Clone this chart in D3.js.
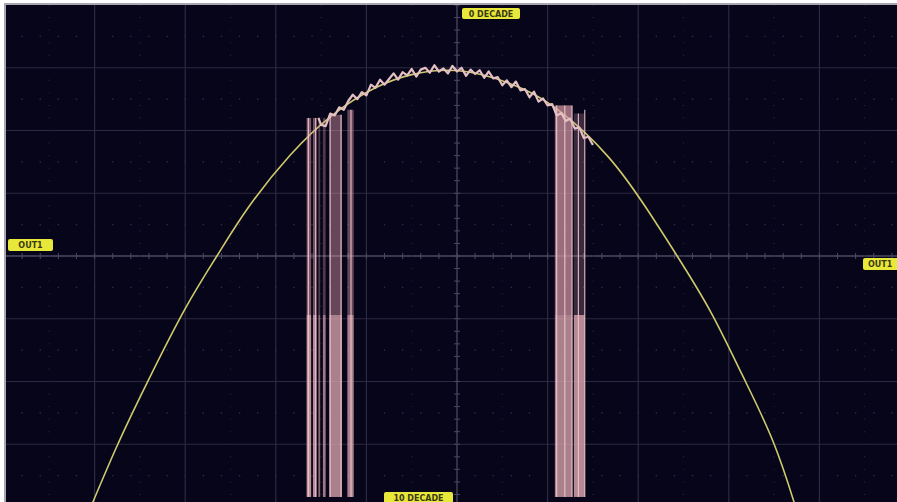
<!doctype html>
<html>
<head>
<meta charset="UTF-8">
<title>Scope trace</title>
<script src="https://cdn.jsdelivr.net/npm/d3@7"></script>
<style>
    body { margin: 0; background: #ffffff; }
    svg { display: block; font-family: "DejaVu Sans", sans-serif; }
    .grid { stroke: #2c2942; stroke-width: 1.2; }
    .axis0 { stroke: #4c4864; stroke-width: 1.3; }
    .tag text { font-size: 8px; font-weight: bold; fill: #3a3a10; }
</style>
</head>
<body>
<svg id="scope" width="897" height="502"></svg>
<script>
// reference curve (yellow), screen divisions
var refX = [-4.10, -4.03, -3.75, -3.41, -3.00, -2.65, -2.30, -1.84, -1.37, -0.90, -0.50, -0.11, 0.30, 0.73, 1.14, 1.67, 2.10, 2.43, 2.80, 3.15, 3.49, 3.72, 3.76];
var refY = [-4.20, -3.96, -3.02, -1.99, -0.84, 0.00, 0.78, 1.61, 2.25, 2.68, 2.89, 2.96, 2.88, 2.66, 2.30, 1.58, 0.74, 0.00, -0.89, -1.90, -2.96, -3.92, -4.10];

// measured trace (pink), noisy top part
var traceX = [-1.53, -1.50, -1.45, -1.40, -1.35, -1.30, -1.25, -1.20, -1.15, -1.10, -1.05, -1.00, -0.95, -0.90, -0.85, -0.80, -0.75, -0.70, -0.65, -0.60, -0.55, -0.50, -0.45, -0.40, -0.35, -0.30, -0.25, -0.20, -0.15, -0.10, -0.05, 0.00, 0.05, 0.10, 0.15, 0.20, 0.25, 0.30, 0.35, 0.40, 0.45, 0.50, 0.55, 0.60, 0.65, 0.70, 0.75, 0.80, 0.85, 0.90, 0.95, 1.00, 1.05, 1.10, 1.15, 1.20, 1.25, 1.30, 1.35, 1.40, 1.45, 1.50];
var traceY = [2.20, 2.09, 2.07, 2.27, 2.24, 2.37, 2.33, 2.47, 2.57, 2.50, 2.61, 2.56, 2.73, 2.68, 2.81, 2.73, 2.82, 2.91, 2.81, 2.93, 2.88, 2.98, 2.86, 2.97, 3.00, 2.92, 3.04, 2.94, 2.99, 2.91, 3.03, 2.94, 3.00, 2.87, 2.97, 2.90, 2.96, 2.84, 2.94, 2.83, 2.85, 2.72, 2.80, 2.69, 2.78, 2.64, 2.66, 2.53, 2.62, 2.46, 2.51, 2.40, 2.42, 2.24, 2.28, 2.15, 2.19, 2.03, 2.05, 1.88, 1.90, 1.77];

// dropout bands of the trace (x from, x to, top level, density above / below the step)
var bandX0 = [-1.66, -1.59, -1.53, -1.48, -1.41, -1.21, 1.08, 1.29];
var bandX1 = [-1.61, -1.55, -1.51, -1.45, -1.27, -1.14, 1.27, 1.41];
var bandTop = [2.20, 2.20, 2.20, 2.20, 2.25, 2.33, 2.40, 2.27];
var bandUpper = [0.55, 0.50, 0.35, 0.35, 0.45, 0.45, 0.70, 0.25];
var bandLower = [0.85, 0.80, 0.60, 0.70, 0.75, 0.75, 0.75, 0.80];
var stepLevel = -0.94, floorLevel = -3.84;

// bright single sweeps inside the bands
var edgeX = [-1.64, -1.56, -1.40, -1.28, -1.17, 1.10, 1.19, 1.27, 1.34, 1.41];
var edgeTop = [2.20, 2.20, 2.25, 2.25, 2.33, 2.40, 2.40, 2.40, 2.27, 2.33];

var tagTop = "0 DECADE", tagBottom = "10 DECADE", tagLeft = "OUT1", tagRight = "OUT1";

var svg = d3.select("#scope");
var x = d3.scaleLinear().domain([-5, 5]).range([4, 910]);
var y = d3.scaleLinear().domain([-4, 4]).range([507, 5]);

svg.append("clipPath").attr("id", "screen")
    .append("rect").attr("x", 5).attr("y", 4).attr("width", 892).attr("height", 498);

svg.append("rect").attr("x", 5).attr("y", 4).attr("width", 892).attr("height", 498)
    .attr("fill", "#07051a");

var g = svg.append("g").attr("clip-path", "url(#screen)");

// grid
g.selectAll(".vg").data(d3.range(-4, 5)).enter().append("line")
    .attr("class", function(d) { return d === 0 ? "axis0" : "grid"; })
    .attr("x1", function(d) { return x(d); }).attr("x2", function(d) { return x(d); })
    .attr("y1", y(4)).attr("y2", y(-4));
g.selectAll(".hg").data(d3.range(-3, 4)).enter().append("line")
    .attr("class", function(d) { return d === 0 ? "axis0" : "grid"; })
    .attr("y1", function(d) { return y(d); }).attr("y2", function(d) { return y(d); })
    .attr("x1", x(-5)).attr("x2", x(5));

// minor ticks on centre lines and dotted half-division rows
var minor = d3.range(-25, 26).map(function(i) { return i / 5; });
var minorY = d3.range(-20, 21).map(function(i) { return i / 5; });
g.selectAll(".tx").data(minor).enter().append("line")
    .attr("x1", function(d) { return x(d); }).attr("x2", function(d) { return x(d); })
    .attr("y1", y(0) - 3).attr("y2", y(0) + 3)
    .attr("stroke", "#4c4864").attr("stroke-width", 1);
g.selectAll(".ty").data(minorY).enter().append("line")
    .attr("y1", function(d) { return y(d); }).attr("y2", function(d) { return y(d); })
    .attr("x1", x(0) - 3).attr("x2", x(0) + 3)
    .attr("stroke", "#4c4864").attr("stroke-width", 1);
[-3.5, -2.5, -1.5, -0.5, 0.5, 1.5, 2.5, 3.5].forEach(function(r) {
    g.selectAll(null).data(minor).enter().append("circle")
        .attr("cx", function(d) { return x(d); }).attr("cy", y(r)).attr("r", 0.8)
        .attr("fill", "#2e2a44");
});
[-4.5, -3.5, -2.5, -1.5, -0.5, 0.5, 1.5, 2.5, 3.5, 4.5].forEach(function(c) {
    g.selectAll(null).data(minorY).enter().append("circle")
        .attr("cx", x(c)).attr("cy", function(d) { return y(d); }).attr("r", 0.7)
        .attr("fill", "#26233a");
});

// reference curve
var line = d3.line().x(function(d) { return x(d[0]); }).y(function(d) { return y(d[1]); });
g.append("path")
    .datum(d3.zip(refX, refY))
    .attr("d", line.curve(d3.curveNatural))
    .attr("fill", "none").attr("stroke", "#cfca6c").attr("stroke-width", 1.6);

// trace dropouts
var bands = d3.range(bandX0.length);
g.selectAll(".bu").data(bands).enter().append("rect")
    .attr("x", function(i) { return x(bandX0[i]); })
    .attr("width", function(i) { return x(bandX1[i]) - x(bandX0[i]); })
    .attr("y", function(i) { return y(bandTop[i]); })
    .attr("height", function(i) { return y(stepLevel) - y(bandTop[i]); })
    .attr("fill", "#d99aa6").attr("fill-opacity", function(i) { return bandUpper[i]; });
g.selectAll(".bl").data(bands).enter().append("rect")
    .attr("x", function(i) { return x(bandX0[i]); })
    .attr("width", function(i) { return x(bandX1[i]) - x(bandX0[i]); })
    .attr("y", y(stepLevel))
    .attr("height", y(floorLevel) - y(stepLevel))
    .attr("fill", "#e2aab3").attr("fill-opacity", function(i) { return bandLower[i]; });
g.selectAll(".edge").data(d3.range(edgeX.length)).enter().append("line")
    .attr("x1", function(i) { return x(edgeX[i]); }).attr("x2", function(i) { return x(edgeX[i]); })
    .attr("y1", function(i) { return y(edgeTop[i]); }).attr("y2", y(floorLevel))
    .attr("stroke", "#f1c8cf").attr("stroke-width", 1.2).attr("stroke-opacity", 0.85);

// noisy top of the trace
g.append("path")
    .datum(d3.zip(traceX, traceY))
    .attr("d", line.curve(d3.curveLinear))
    .attr("fill", "none").attr("stroke", "#e4c0c4").attr("stroke-width", 2.2)
    .attr("stroke-linejoin", "round");

// border
svg.append("line").attr("x1", 5).attr("x2", 5).attr("y1", 3).attr("y2", 502)
    .attr("stroke", "#a8a6b0").attr("stroke-width", 2);
svg.append("line").attr("x1", 4).attr("x2", 897).attr("y1", 4).attr("y2", 4)
    .attr("stroke", "#a8a6b0").attr("stroke-width", 2);

// yellow tags
function tag(tx, ty, w, h, s, anchor) {
    var t = svg.append("g").attr("class", "tag");
    t.append("rect").attr("x", tx).attr("y", ty).attr("width", w).attr("height", h)
        .attr("rx", 2).attr("fill", "#e8e83a");
    t.append("text")
        .attr("x", anchor === "start" ? tx + 5 : tx + w / 2)
        .attr("y", ty + h / 2 + 3)
        .attr("text-anchor", anchor || "middle").text(s);
}
tag(462, 8, 58, 11, tagTop);
tag(384, 492, 69, 11, tagBottom);
tag(8, 239, 45, 12, tagLeft);
tag(863, 258, 48, 12, tagRight, "start");
</script>
</body>
</html>
